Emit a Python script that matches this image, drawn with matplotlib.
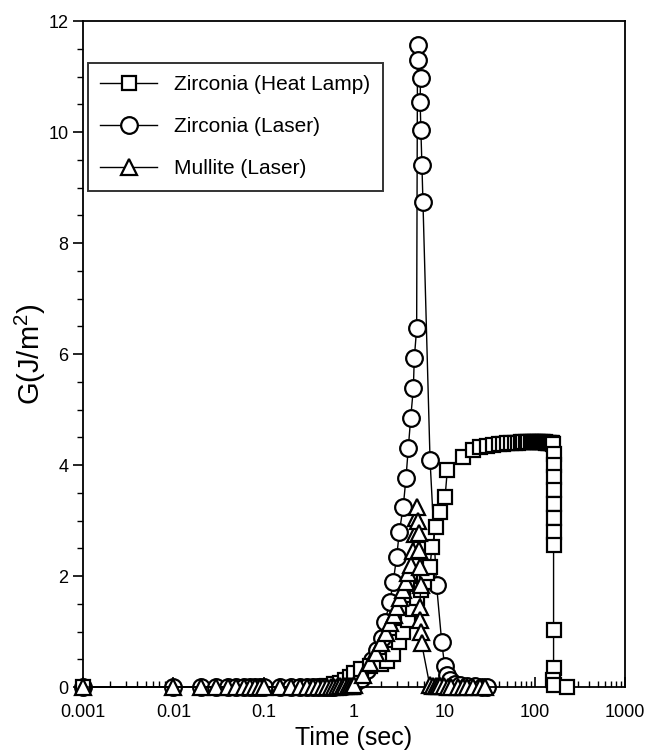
import numpy as np
import matplotlib
matplotlib.use("Agg")
import matplotlib.pyplot as plt
from matplotlib.ticker import LogLocator, MultipleLocator, NullFormatter

plt.rcParams['font.family'] = ['Liberation Sans', 'DejaVu Sans']
plt.rcParams['mathtext.fontset'] = 'custom'
plt.rcParams['mathtext.rm'] = 'Liberation Sans'

# data (time in sec, G in J/m^2)
lamp_t = [0.001, 0.4, 0.5, 0.6, 0.7, 0.8, 0.9, 1.0, 1.2, 1.5, 2.0, 2.3, 2.7, 3.15,
          3.5, 4.0, 4.5, 5.0, 5.5, 6.0, 6.5, 6.95, 7.3, 8.1, 9.0, 10.2, 10.8, 15.9, 20.8,
          25, 30, 35, 40, 45, 50, 55, 60, 65, 70, 75, 80, 85, 90, 95, 100,
          105, 110, 115, 120, 125, 130, 135, 140, 145, 150, 155, 160,
          162, 162, 162, 162, 162, 162, 162, 162, 162, 162, 158, 164, 230]
lamp_g = [0.0, 0.0, 0.02, 0.05, 0.08, 0.12, 0.18, 0.25, 0.32, 0.38, 0.42, 0.46, 0.6, 0.82,
          1.0, 1.2, 1.4, 1.6, 1.75, 1.9, 2.05, 2.17, 2.53, 2.89, 3.16, 3.43, 3.91, 4.15, 4.27,
          4.33, 4.35, 4.36, 4.37, 4.38, 4.39, 4.39, 4.40, 4.40, 4.41, 4.41, 4.41, 4.42, 4.42, 4.42,
          4.42, 4.42, 4.42, 4.41, 4.41, 4.41, 4.41, 4.40, 4.40, 4.40, 4.39, 4.39, 4.38,
          4.2, 4.0, 3.78, 3.55, 3.3, 3.05, 2.8, 2.56, 1.03, 0.34, 0.12, 0.03, 0.0]

zl_t = [0.001, 0.01, 0.02, 0.03, 0.04, 0.05, 0.06, 0.07, 0.08, 0.09, 0.1, 0.15, 0.2,
        0.25, 0.3, 0.35, 0.4, 0.45, 0.5, 0.55, 0.6, 0.65, 0.7, 0.75, 0.8, 0.85, 0.9, 0.95,
        1.0, 1.2, 1.4, 1.57, 1.78, 2.02, 2.2, 2.5, 2.72, 2.97, 3.18, 3.51, 3.76, 3.99,
        4.24, 4.54, 4.65, 4.94, 5.05, 5.1, 5.45, 5.4, 5.5, 5.65, 5.8, 6.95, 8.2, 9.35,
        10.1, 10.6, 11.5, 13, 15, 18, 22, 26, 30]
zl_g = [0.0, 0.0, 0.0, 0.0, 0.0, 0.0, 0.0, 0.0, 0.0, 0.0, 0.0, 0.0, 0.0,
        0.0, 0.0, 0.0, 0.0, 0.0, 0.0, 0.0, 0.0, 0.01, 0.01, 0.02, 0.02, 0.03, 0.03, 0.04,
        0.05, 0.15, 0.3, 0.49, 0.67, 0.88, 1.18, 1.54, 1.9, 2.35, 2.8, 3.25, 3.76, 4.3,
        4.84, 5.38, 5.92, 6.46, 11.57, 11.3, 10.97, 10.54, 10.04, 9.41, 8.74, 4.09, 1.84, 0.82,
        0.37, 0.22, 0.12, 0.06, 0.03, 0.02, 0.01, 0.0, 0.0]

ml_t = [0.001, 0.01, 0.02, 0.03, 0.04, 0.05, 0.06, 0.07, 0.08, 0.09, 0.1, 0.15, 0.2,
        0.25, 0.3, 0.35, 0.4, 0.45, 0.5, 0.55, 0.6, 0.65, 0.7, 0.75, 0.8, 0.85, 0.9, 0.95,
        1.0, 1.25, 1.5, 1.75, 2.0, 2.25, 2.5, 2.75, 3.0, 3.25, 3.5, 3.75, 4.0, 4.25,
        4.5, 4.75, 4.9, 5.0, 5.1, 5.2, 5.3, 5.35, 5.45, 5.4, 5.4, 5.45, 5.6, 6.9,
        7.5, 8.0, 8.5, 9.0, 10, 11, 12, 14, 16, 18, 21, 25, 28]
ml_g = [0.0, 0.0, 0.0, 0.0, 0.0, 0.0, 0.0, 0.0, 0.0, 0.0, 0.0, 0.0, 0.0,
        0.0, 0.0, 0.0, 0.0, 0.0, 0.0, 0.0, 0.0, 0.0, 0.01, 0.01, 0.01, 0.02, 0.02, 0.02,
        0.03, 0.22, 0.43, 0.62, 0.8, 0.98, 1.15, 1.3, 1.45, 1.6, 1.75, 1.9, 2.05, 2.2,
        2.45, 2.75, 3.05, 3.25, 3.0, 2.77, 2.47, 2.17, 1.84, 1.45, 1.21, 1.0, 0.79, 0.03,
        0.02, 0.02, 0.01, 0.01, 0.01, 0.0, 0.0, 0.0, 0.0, 0.0, 0.0, 0.0, 0.0]

fig = plt.figure(figsize=(6.5, 7.51), dpi=100)
ax = fig.add_axes([0.1277, 0.0852, 0.8338, 0.8868])

mk = dict(color='black', lw=1.0, mfc='white', mec='black', mew=1.6, clip_on=False)
l_sq, = ax.plot(lamp_t, lamp_g, marker='s', ms=10, label='Zirconia (Heat Lamp)', zorder=3, **mk)
l_ci, = ax.plot(zl_t, zl_g, marker='o', ms=12, label='Zirconia (Laser)', zorder=2, **mk)
l_tr, = ax.plot(ml_t, ml_g, marker='^', ms=11, label='Mullite (Laser)', zorder=4, **mk)

ax.set_xscale('log')
ax.set_xlim(0.001, 1000)
ax.set_ylim(0, 12)
ax.set_xticks([0.001, 0.01, 0.1, 1, 10, 100, 1000])
ax.set_xticklabels(['0.001', '0.01', '0.1', '1', '10', '100', '1000'])
ax.xaxis.set_minor_locator(LogLocator(base=10, subs=np.arange(2, 10), numticks=20))
ax.xaxis.set_minor_formatter(NullFormatter())
ax.yaxis.set_major_locator(MultipleLocator(2))
ax.yaxis.set_minor_locator(MultipleLocator(0.5))

ax.tick_params(axis='x', which='both', direction='in', top=False, labelsize=13, pad=12)
ax.tick_params(axis='y', which='both', direction='out', right=False, labelsize=13)
ax.tick_params(which='major', length=7, width=1.2)
ax.tick_params(which='minor', length=4, width=1.0)
for s in ax.spines.values():
    s.set_linewidth(1.3)

ax.set_xlabel('Time (sec)', fontsize=18, labelpad=4)
ax.set_ylabel('G(J/m$^2$)', fontsize=21, labelpad=0)

leg = ax.legend(handles=[l_sq, l_ci, l_tr], loc='upper left',
                bbox_to_anchor=(0.009, 0.937), fontsize=15, frameon=True,
                fancybox=False, edgecolor='black', handlelength=2.7,
                handletextpad=0.85, labelspacing=1.1, borderpad=0.6,
                borderaxespad=0)
leg.get_frame().set_linewidth(1.4)

fig.savefig('out.png', dpi=100)
